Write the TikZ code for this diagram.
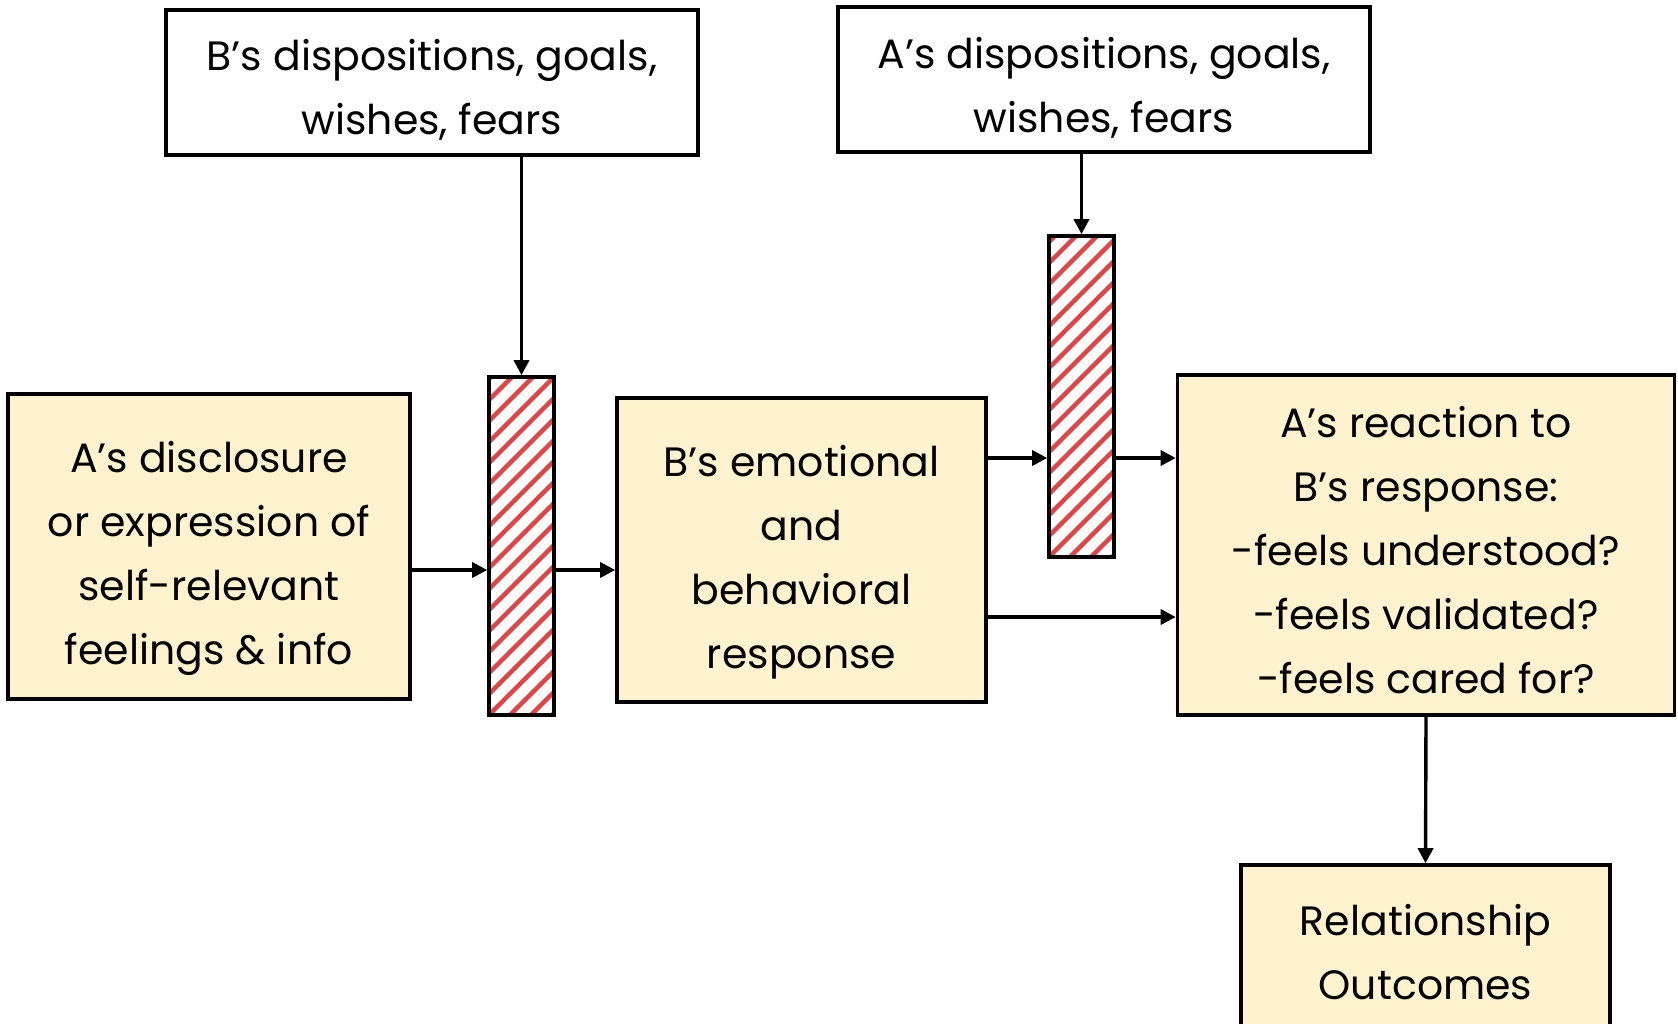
\documentclass[tikz,border=0pt]{standalone}
\usepackage{fontspec}
\setmainfont{Poppins}
\usetikzlibrary{arrows.meta}
\definecolor{boxfill}{HTML}{FFF2CF}
\definecolor{stripe}{HTML}{E04444}
\tikzset{
  box/.style={draw=black, line width=3.6pt, inner sep=0pt},
  cream/.style={box, fill=boxfill},
  txt/.style={inner sep=0pt, align=center, font=\fontsize{41}{64}\selectfont},
  hatchbar/.style={draw=black, line width=3.6pt, fill=white, inner sep=0pt,
    minimum width=65pt,
    path picture={
      \foreach \k in {-30,...,6}
        \draw[stripe, line width=4.4pt]
          ([xshift=\k*21pt]path picture bounding box.south west) -- ++(500pt,500pt);
    }},
  arr/.style={line width=3.4pt, -{Triangle[length=15pt,width=15pt]}},
}
\begin{document}
\begin{tikzpicture}[x=1pt,y=-1pt]
  \useasboundingbox (0,0) rectangle (1678,1024);
  \clip (0,0) rectangle (1678,1024);
  \fill[white] (0,0) rectangle (1678,1024);

  % influences from each partner
  \node[box, minimum width=532pt, minimum height=145pt,
    label={[txt, yshift=-7pt]center:{B’s dispositions, goals,\\wishes, fears}}]
    (bdisp) at (432,82.5) {};
  \node[box, minimum width=532pt, minimum height=145pt,
    label={[txt, yshift=-8pt]center:{A’s dispositions, goals,\\wishes, fears}}]
    (adisp) at (1104,79.5) {};

  % main sequence
  \node[cream, minimum width=402pt, minimum height=305pt,
    label={[txt, yshift=-12pt]center:{A’s disclosure\\or expression of\\self-relevant\\feelings \& info}}]
    (discl) at (209,546.5) {};
  \node[hatchbar, minimum height=338pt] (bar1) at (521.5,546) {};
  \node[cream, minimum width=369pt, minimum height=304pt,
    label={[txt, yshift=-12pt]center:{B’s emotional\\and\\behavioral\\response}}]
    (bemo) at (801.5,550) {};
  \node[hatchbar, minimum height=321pt] (bar2) at (1081.5,396.5) {};
  \node[cream, minimum width=497pt, minimum height=340pt,
    label={[txt, yshift=-5.5pt]center:{A’s reaction to\\B’s response:\\-feels understood?\\-feels validated?\\-feels cared for?}}]
    (areact) at (1426,545) {};
  \node[cream, minimum width=369pt, minimum height=174pt,
    label={[txt]center:{Relationship\\Outcomes}}]
    (outc) at (1425.5,952) {};

  % connectors
  \draw[arr] (bar1.north |- bdisp.south) -- (bar1.north);
  \draw[arr] (bar2.north |- adisp.south) -- (bar2.north);
  \draw[arr] ([yshift=-23.5pt]discl.east) -- ([yshift=-23.5pt]discl.east -| bar1.west);
  \draw[arr] ([yshift=-24pt]bar1.east) -- ([yshift=-24pt]bar1.east -| bemo.west);
  \draw[arr] ([yshift=92pt]bemo.east) -- ([yshift=92pt]bemo.east -| bar2.west);
  \draw[arr] ([yshift=-61.5pt]bar2.east) -- ([yshift=-61.5pt]bar2.east -| areact.west);
  \draw[arr] ([yshift=-67pt]bemo.east) -- ([yshift=-67pt]bemo.east -| areact.west);
  \draw[arr] (areact.south) -- (outc.north);
\end{tikzpicture}
\end{document}
